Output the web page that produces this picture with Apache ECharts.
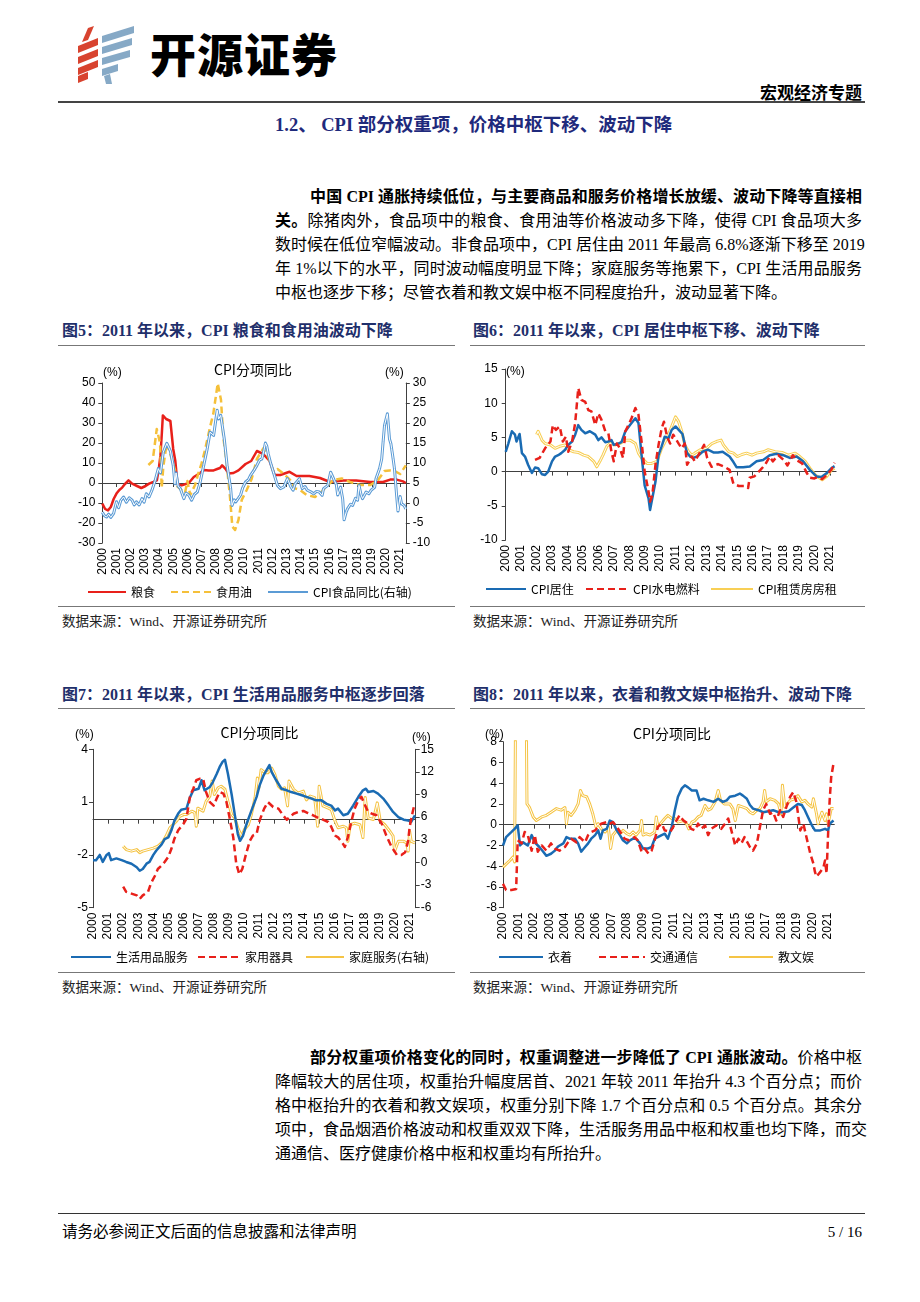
<!DOCTYPE html>
<html><head><meta charset="utf-8">
<script src="https://cdn.jsdelivr.net/npm/echarts@6/dist/echarts.min.js"></script>
<style>
body{margin:0;background:#fff;}
#page{position:relative;width:920px;height:1302px;overflow:hidden;font-family:"Liberation Serif","Noto Sans CJK SC",serif;color:#000;}
.a{position:absolute;white-space:nowrap;}
.pl{position:absolute;font-size:16px;line-height:20px;height:20px;white-space:nowrap;text-align:justify;text-align-last:justify;}
.cap{position:absolute;white-space:nowrap;font-size:16px;font-weight:bold;color:#1f2f6b;line-height:18px;}
.src{position:absolute;white-space:nowrap;font-size:13.5px;color:#222;line-height:16px;}
.hr{position:absolute;height:1px;background:#777;}
.chart{position:absolute;}
b{font-weight:bold;}
</style></head>
<body><div id="page">
<svg class="a" style="left:74px;top:26px" width="66" height="58" viewBox="0 0 66 58">
 <g fill="#d8432f">
  <polygon points="14,2 20,0 14,14 8,16"/>
  <polygon points="4,20 24,12 24,19 4,27"/>
  <polygon points="4,31 24,23 24,30 4,38"/>
  <polygon points="4,42 24,34 24,41 4,49"/>
  <polygon points="4,50 14,46 14,53 4,57"/>
 </g>
 <g fill="#86a9c6">
  <polygon points="28,10 60,0 60,7 28,17"/>
  <polygon points="28,21 58,12 58,19 28,28"/>
  <polygon points="28,32 56,24 56,31 28,39"/>
  <polygon points="28,43 44,38 44,45 28,50"/>
  <polygon points="30,50 36,48 38,58 32,58"/>
 </g>
</svg>
<div class="a" style="left:150px;top:22px;font-family:'Noto Sans CJK SC';font-size:46px;font-weight:900;line-height:60px;letter-spacing:1px;">开源证券</div>
<div class="a" style="right:58px;top:82px;font-size:17px;font-weight:bold;line-height:20px;font-family:'Noto Sans CJK SC';">宏观经济专题</div>
<div class="a" style="left:58px;top:101px;width:807px;height:2px;background:#444;"></div>
<div class="a" style="left:275px;top:114px;font-size:18.5px;font-weight:bold;color:#1f2a7c;line-height:22px;">1.2、 CPI 部分权重项，价格中枢下移、波动下降</div>

<div class="pl" style="left:310px;top:187px;width:552px;"><b>中国 CPI 通胀持续低位，与主要商品和服务价格增长放缓、波动下降等直接相</b></div>
<div class="pl" style="left:275px;top:211px;width:587px;"><b>关。</b>除猪肉外，食品项中的粮食、食用油等价格波动多下降，使得 CPI 食品项大多</div>
<div class="pl" style="left:275px;top:235px;width:587px;">数时候在低位窄幅波动。非食品项中，CPI 居住由 2011 年最高 6.8%逐渐下移至 2019</div>
<div class="pl" style="left:275px;top:259px;width:587px;">年 1%以下的水平，同时波动幅度明显下降；家庭服务等拖累下，CPI 生活用品服务</div>
<div class="pl" style="left:275px;top:283px;text-align:left;text-align-last:left;">中枢也逐步下移；尽管衣着和教文娱中枢不同程度抬升，波动显著下降。</div>

<div class="cap" style="left:62px;top:322px;">图5：2011 年以来，CPI 粮食和食用油波动下降</div>
<div class="cap" style="left:473px;top:322px;">图6：2011 年以来，CPI 居住中枢下移、波动下降</div>
<div class="hr" style="left:58px;top:345px;width:397px;"></div>
<div class="hr" style="left:470px;top:345px;width:395px;"></div>
<div id="c5" class="chart" style="left:58px;top:350px;width:400px;height:255px;"></div>
<div id="c6" class="chart" style="left:468px;top:350px;width:400px;height:255px;"></div>
<div class="hr" style="left:58px;top:606px;width:397px;"></div>
<div class="hr" style="left:470px;top:606px;width:395px;"></div>
<div class="src" style="left:62px;top:614px;">数据来源：Wind、开源证券研究所</div>
<div class="src" style="left:473px;top:614px;">数据来源：Wind、开源证券研究所</div>

<div class="cap" style="left:62px;top:686px;">图7：2011 年以来，CPI 生活用品服务中枢逐步回落</div>
<div class="cap" style="left:473px;top:686px;">图8：2011 年以来，衣着和教文娱中枢抬升、波动下降</div>
<div class="hr" style="left:58px;top:708px;width:397px;"></div>
<div class="hr" style="left:470px;top:708px;width:395px;"></div>
<div id="c7" class="chart" style="left:58px;top:712px;width:400px;height:260px;"></div>
<div id="c8" class="chart" style="left:468px;top:712px;width:400px;height:260px;"></div>
<div class="hr" style="left:58px;top:972px;width:397px;"></div>
<div class="hr" style="left:470px;top:972px;width:395px;"></div>
<div class="src" style="left:62px;top:980px;">数据来源：Wind、开源证券研究所</div>
<div class="src" style="left:473px;top:980px;">数据来源：Wind、开源证券研究所</div>

<div class="pl" style="left:310px;top:1048px;width:552px;"><b>部分权重项价格变化的同时，权重调整进一步降低了 CPI 通胀波动。</b>价格中枢</div>
<div class="pl" style="left:275px;top:1072px;width:587px;">降幅较大的居住项，权重抬升幅度居首、2021 年较 2011 年抬升 4.3 个百分点；而价</div>
<div class="pl" style="left:275px;top:1096px;width:587px;">格中枢抬升的衣着和教文娱项，权重分别下降 1.7 个百分点和 0.5 个百分点。其余分</div>
<div class="pl" style="left:275px;top:1120px;width:587px;">项中，食品烟酒价格波动和权重双双下降，生活服务用品中枢和权重也均下降，而交</div>
<div class="pl" style="left:275px;top:1144px;text-align:left;text-align-last:left;">通通信、医疗健康价格中枢和权重均有所抬升。</div>

<div class="a" style="left:58px;top:1213px;width:807px;height:1px;background:#333;"></div>
<div class="a" style="left:62px;top:1223px;font-size:15.5px;line-height:18px;">请务必参阅正文后面的信息披露和法律声明</div>
<div class="a" style="right:58px;top:1223px;font-size:15px;line-height:18px;">5 / 16</div>
</div>
<script>
// ---------- tick labels ----------
const yearTicks = [2000,2001,2002,2003,2004,2005,2006,2007,2008,2009,2010,2011,2012,2013,2014,2015,2016,2017,2018,2019,2020,2021];

// ---------- Fig 5 ----------
const grain = [[2000.0,-10.3],[2000.2,-13],[2000.4,-13.7],[2000.6,-12],[2000.8,-8],[2001.0,-5.3],[2001.2,-3.5],[2001.4,-2.3],[2001.6,-0.5],[2001.85,1.3],[2002.1,-0.3],[2002.45,-1.5],[2002.75,-2.5],[2003.05,-1.5],[2003.3,-0.3],[2003.6,0.5],[2003.85,1.3],[2004.0,8],[2004.1,13.8],[2004.2,25],[2004.27,33.8],[2004.5,32],[2004.8,31],[2005.0,17],[2005.15,11],[2005.3,-0.5],[2005.6,-1.2],[2006.1,0],[2006.45,3],[2006.9,5],[2007.15,6.5],[2007.5,6.3],[2007.85,6.3],[2008.1,7],[2008.3,7.5],[2008.45,8.8],[2008.7,7],[2008.9,4.7],[2009.25,5],[2009.6,6.3],[2010.1,9.5],[2010.5,11],[2010.9,16],[2011.35,14.5],[2011.8,11],[2012.15,4],[2012.55,4],[2013.2,5.6],[2013.7,3.5],[2014.6,3.5],[2015.35,2.5],[2016.05,0.5],[2017.0,1.3],[2017.9,1.2],[2018.9,0.5],[2019.8,0.5],[2020.3,1.7],[2020.75,1.7],[2021.2,0.8],[2021.4,0]];
const oil = [[2003.25,9],[2003.55,11],[2003.84,27],[2004.07,20],[2004.19,-2.5],[2004.3,8],[2004.54,20],[2004.77,15],[2005.13,6.5],[2005.3,-1.8],[2005.83,-5],[2006.0,1],[2006.2,-6],[2006.54,-1],[2006.77,4.8],[2007.0,9.8],[2007.24,16.5],[2007.6,28],[2007.83,34.8],[2008.14,49.8],[2008.37,41.5],[2008.53,23],[2008.77,9.8],[2009.0,-6.8],[2009.17,-21.8],[2009.36,-23.5],[2009.6,-18.5],[2009.83,-8.5],[2010.18,-3.5],[2010.53,2],[2010.9,12],[2011.35,17.3],[2011.7,13],[2012.06,5.7],[2012.35,7],[2012.76,4.8],[2013.24,1.5],[2013.6,-2.7],[2013.94,-3.5],[2014.4,-6],[2015.0,-7],[2015.47,-4.3],[2015.9,-1],[2016.3,1.5],[2016.88,2.3],[2017.47,0.5],[2018.17,-1],[2018.9,-1],[2019.44,1.5],[2019.9,6],[2020.25,6.3],[2020.6,6],[2021.0,4.5],[2021.4,8.8]];
const foodCpi = [[2000.0,-2.3],[2000.15,-3.2],[2000.3,-3.5],[2000.45,-2.8],[2000.6,-3.6],[2000.8,-2.6],[2001.0,0.3],[2001.15,-1.2],[2001.3,0.6],[2001.5,1.5],[2001.7,0.2],[2001.9,1.3],[2002.1,0.7],[2002.25,-0.5],[2002.4,0.3],[2002.6,-0.5],[2002.8,1.1],[2002.95,0.2],[2003.1,2.3],[2003.3,1.5],[2003.5,3.2],[2003.7,5.3],[2003.95,8.6],[2004.1,7.5],[2004.3,12.7],[2004.55,14.9],[2004.8,13],[2005.0,9.4],[2005.12,4.8],[2005.2,7.5],[2005.35,4.2],[2005.5,3.6],[2005.75,1.1],[2005.9,2.5],[2006.1,2],[2006.3,0.7],[2006.5,2.2],[2006.7,2.75],[2006.9,5.2],[2007.15,9.4],[2007.4,13.6],[2007.6,17.7],[2007.85,16.9],[2008.1,23.2],[2008.2,21],[2008.35,21.9],[2008.6,16],[2008.8,9.4],[2009.05,3.6],[2009.15,-0.6],[2009.3,0.8],[2009.4,0.25],[2009.6,1.2],[2009.75,2],[2009.9,3.8],[2010.1,5.25],[2010.3,5.8],[2010.45,6.9],[2010.7,8.2],[2010.9,9.4],[2011.1,10.8],[2011.25,11],[2011.4,13.2],[2011.5,15],[2011.6,14.2],[2011.7,12.3],[2011.85,10.2],[2012.1,7.3],[2012.35,4.4],[2012.55,3.6],[2012.8,4],[2013.05,6.1],[2013.3,4],[2013.45,3.2],[2013.6,4.8],[2013.9,6.1],[2014.1,3.6],[2014.3,4.1],[2014.45,3.2],[2014.7,2.8],[2014.9,2.3],[2015.1,2.9],[2015.3,2.75],[2015.5,1.9],[2015.6,3.6],[2015.9,4.4],[2016.1,7.7],[2016.35,5.7],[2016.5,4.6],[2016.6,2],[2016.8,4],[2016.95,1],[2017.05,-4.2],[2017.2,-2.2],[2017.3,-1.4],[2017.5,-0.3],[2017.65,-0.6],[2017.85,1.2],[2018.0,0.7],[2018.1,4.4],[2018.25,2],[2018.35,1.1],[2018.6,2.75],[2018.8,2.3],[2018.95,3.2],[2019.05,3.6],[2019.2,3.9],[2019.3,6.1],[2019.55,8.6],[2019.7,11],[2019.8,15.3],[2019.9,19.4],[2020.0,19],[2020.1,22.3],[2020.25,16],[2020.35,14.8],[2020.4,13.6],[2020.5,11.2],[2020.6,8.6],[2020.75,2],[2020.85,-2],[2021.0,1.6],[2021.1,-0.2],[2021.2,-0.3],[2021.3,-0.7],[2021.4,-1.5]];

// ---------- Fig 6 ----------
const housing = [[2000.0,2.9],[2000.17,4.1],[2000.4,5.9],[2000.6,5.4],[2000.7,4.4],[2000.9,5.5],[2001.05,2.7],[2001.25,2.2],[2001.45,1.0],[2001.7,-0.2],[2001.9,0.6],[2002.1,0.5],[2002.35,-0.4],[2002.55,-0.5],[2002.75,0],[2003.0,1.5],[2003.2,2.2],[2003.4,2.4],[2003.6,2.7],[2003.85,3.2],[2004.05,3.9],[2004.3,4.4],[2004.5,5.4],[2004.7,6.8],[2004.9,6.1],[2005.15,5.6],[2005.45,5.9],[2005.8,5.4],[2006.0,4.6],[2006.2,5.0],[2006.45,4.3],[2006.65,4.4],[2006.85,4.6],[2007.0,3.9],[2007.3,4.1],[2007.5,4.3],[2007.75,5.9],[2008.05,6.8],[2008.4,7.8],[2008.6,7.1],[2008.8,2.4],[2009.0,-2],[2009.25,-3.9],[2009.35,-5.6],[2009.45,-5.4],[2009.7,-1.5],[2009.9,2.4],[2010.1,3.7],[2010.3,5.1],[2010.55,4.9],[2010.75,6.1],[2011.0,6.6],[2011.25,6.0],[2011.45,5.5],[2011.6,4.0],[2011.75,2.7],[2011.95,2.2],[2012.15,2.0],[2012.4,2.2],[2012.75,2.9],[2013.1,3.2],[2013.45,2.8],[2013.75,2.8],[2014.05,2.9],[2014.5,2.2],[2014.75,1.4],[2014.95,0.64],[2015.38,0.64],[2015.81,0.75],[2016.25,1.5],[2016.67,1.7],[2017.1,2.4],[2017.54,2.6],[2017.97,2.4],[2018.4,2.0],[2018.84,2.2],[2019.26,1.5],[2019.7,0.25],[2020.13,-0.7],[2020.45,-0.8],[2020.78,-0.25],[2021.1,0.5],[2021.3,0.8]];
const utilities = [[2001.9,1.7],[2002.2,2.0],[2002.55,3.4],[2002.9,4.4],[2003.05,6.8],[2003.25,6.1],[2003.5,6.6],[2003.7,4.4],[2003.9,5.1],[2004.05,2.9],[2004.3,4.4],[2004.5,7.1],[2004.7,12.2],[2004.9,10.5],[2005.15,10.2],[2005.35,9.0],[2005.55,8.8],[2005.8,6.8],[2006.0,8.5],[2006.2,7.6],[2006.45,5.9],[2006.65,5.6],[2006.85,2.9],[2007.0,1.5],[2007.2,4.1],[2007.4,3.4],[2007.6,2.0],[2007.75,5.9],[2007.95,6.8],[2008.15,7.8],[2008.4,9.3],[2008.6,8.3],[2008.8,4.4],[2009.0,0],[2009.25,-2.9],[2009.35,-4.4],[2009.5,-3.4],[2009.7,1.0],[2009.9,3.9],[2010.1,6.3],[2010.25,7.3],[2010.45,5.1],[2010.65,4.1],[2010.85,5.4],[2011.2,4.1],[2011.4,3.4],[2011.6,4.1],[2011.75,1.0],[2012.05,2.2],[2012.25,1.5],[2012.6,2.9],[2012.85,3.9],[2013.05,2.0],[2013.33,0.7],[2013.75,1.1],[2014.18,0.7],[2014.5,0.25],[2014.75,-1.8],[2015.1,-2.1],[2015.5,-2.1],[2015.7,-2.4],[2015.8,-0.9],[2016.1,-0.7],[2016.5,0.25],[2016.8,1.0],[2017.1,2.2],[2017.3,1.5],[2017.65,2.4],[2018.0,1.7],[2018.25,0.9],[2018.6,2.4],[2018.9,1.6],[2019.2,1.2],[2019.5,-0.2],[2019.7,-0.9],[2020.0,-1.0],[2020.2,-0.8],[2020.5,-1.1],[2020.8,-0.5],[2021.1,0.3],[2021.3,1.3]];
const rent = [[2002.0,5.4],[2002.1,5.9],[2002.35,4.6],[2002.55,4.1],[2002.9,3.9],[2003.2,3.4],[2003.5,3.7],[2003.85,3.9],[2004.05,3.2],[2004.4,2.9],[2004.7,2.8],[2005.05,2.4],[2005.35,2.2],[2005.7,1.5],[2005.9,0.7],[2006.1,1.5],[2006.3,2.4],[2006.55,3.7],[2006.75,4.1],[2007.1,3.9],[2007.4,4.1],[2007.75,4.6],[2008.05,4.6],[2008.4,4.1],[2008.6,2.7],[2008.8,2.0],[2009.15,1.2],[2009.45,1.2],[2009.8,1.5],[2010.1,3.4],[2010.45,4.9],[2010.75,6.6],[2011.0,8.0],[2011.2,7.3],[2011.4,5.9],[2011.6,3.9],[2011.85,2.9],[2012.05,2.4],[2012.25,2.7],[2012.6,3.2],[2013.0,3.4],[2013.35,4.1],[2013.65,4.4],[2013.95,4.6],[2014.1,3.9],[2014.45,2.9],[2014.75,2.7],[2015.0,2.2],[2015.3,2.5],[2015.6,2.7],[2015.95,2.4],[2016.25,2.7],[2016.7,2.9],[2017.0,3.2],[2017.45,2.9],[2017.9,2.8],[2018.3,2.4],[2018.75,2.7],[2019.05,2.2],[2019.4,1.5],[2019.7,0.5],[2020.05,-0.5],[2020.5,-1.2],[2020.8,-0.7],[2021.1,0.25],[2021.3,0.5]];

// ---------- Fig 7 ----------
const dailyGoods = [[2000.0,-2.3],[2000.2,-2.3],[2000.45,-2.0],[2000.65,-2.4],[2000.9,-2.0],[2001.05,-1.9],[2001.2,-2.3],[2001.55,-2.2],[2001.9,-2.3],[2002.2,-2.4],[2002.55,-2.5],[2002.9,-2.7],[2003.1,-2.9],[2003.3,-2.8],[2003.55,-2.5],[2003.75,-2.4],[2004.0,-2.0],[2004.2,-1.75],[2004.55,-1.4],[2004.75,-1.1],[2005.0,-1.0],[2005.2,-0.6],[2005.4,-0.05],[2005.65,0.35],[2005.85,0.57],[2006.2,0.63],[2006.4,1.2],[2006.65,1.67],[2007.0,1.76],[2007.2,2.24],[2007.4,1.67],[2007.75,1.86],[2007.95,2.14],[2008.2,2.6],[2008.4,3.0],[2008.6,3.3],[2008.75,3.4],[2008.95,2.6],[2009.2,1.4],[2009.4,0.3],[2009.6,-0.8],[2009.75,-1.2],[2009.95,-0.9],[2010.2,-0.2],[2010.5,0.5],[2010.85,1.3],[2011.05,1.95],[2011.3,2.5],[2011.5,2.8],[2011.7,3.1],[2011.85,2.7],[2012.15,2.24],[2012.5,1.76],[2012.85,1.67],[2013.15,1.57],[2013.5,1.48],[2013.8,1.4],[2014.15,1.3],[2014.5,1.2],[2014.8,1.1],[2015.15,1.1],[2015.5,0.9],[2015.8,0.8],[2016.05,0.53],[2016.25,0.63],[2016.6,0.25],[2016.9,0.34],[2017.25,0.8],[2017.6,1.3],[2017.9,1.67],[2018.1,1.76],[2018.25,1.57],[2018.6,1.63],[2018.9,1.48],[2019.25,1.2],[2019.6,0.8],[2019.9,0.44],[2020.25,0.15],[2020.6,0],[2020.9,-0.04],[2021.1,-0.13],[2021.35,0.25]];
const appliances = [[2002.0,-3.8],[2002.2,-4.1],[2002.55,-4.2],[2002.9,-4.3],[2003.1,-4.5],[2003.3,-4.3],[2003.65,-4.1],[2003.85,-3.6],[2004.1,-3.2],[2004.3,-2.8],[2004.55,-2.6],[2004.75,-2.4],[2005.0,-2.1],[2005.2,-1.65],[2005.4,-1.08],[2005.65,-0.6],[2006.0,-0.23],[2006.2,0.06],[2006.3,0.63],[2006.45,1.4],[2006.65,1.76],[2006.85,2.24],[2007.1,2.33],[2007.3,2.33],[2007.5,1.57],[2007.75,1.0],[2008.0,0.8],[2008.2,1.2],[2008.4,1.57],[2008.65,1.48],[2008.85,1.0],[2009.05,0.15],[2009.3,-1.0],[2009.5,-2.5],[2009.7,-3.1],[2009.9,-2.8],[2010.15,-1.94],[2010.4,-1.2],[2010.6,-0.9],[2010.85,-0.8],[2011.05,-0.04],[2011.35,0.63],[2011.6,1.0],[2011.95,0.72],[2012.3,0.63],[2012.6,0.25],[2012.85,0],[2013.05,0.15],[2013.3,0.34],[2013.6,0.44],[2013.95,0.5],[2014.25,0.38],[2014.6,0.25],[2014.95,0.1],[2015.25,0],[2015.6,-0.13],[2015.8,-0.4],[2016.05,-0.9],[2016.25,-1.0],[2016.6,-1.4],[2016.7,-1.55],[2016.9,-1.0],[2017.15,-0.04],[2017.35,0.63],[2017.6,1.1],[2017.8,1.3],[2018.05,0.8],[2018.25,0.44],[2018.5,0.34],[2018.8,0.25],[2019.15,-0.23],[2019.45,-0.9],[2019.8,-1.55],[2020.15,-2.0],[2020.45,-2.0],[2020.7,-1.85],[2020.9,-1.2],[2021.0,-0.4],[2021.2,0.44],[2021.3,0.8]];
const homeService = [[2002.0,2.15],[2002.2,1.7],[2002.55,1.5],[2002.9,1.7],[2003.1,1.3],[2003.3,1.5],[2003.65,1.7],[2004.0,1.9],[2004.3,2.15],[2004.65,2.8],[2004.85,3.5],[2005.1,4.6],[2005.3,5.0],[2005.55,5.5],[2005.75,6.1],[2006.0,6.35],[2006.2,6.35],[2006.55,6.8],[2006.75,6.6],[2006.85,4.8],[2006.95,7.2],[2007.3,6.8],[2007.5,8.1],[2007.75,8.8],[2007.9,10.8],[2008.05,9.0],[2008.3,9.9],[2008.5,10.1],[2008.75,9.7],[2008.95,8.1],[2009.2,6.35],[2009.4,5.9],[2009.6,4.6],[2009.85,3.5],[2009.95,3.3],[2010.05,4.4],[2010.3,5.0],[2010.5,6.35],[2010.75,8.6],[2010.9,11.2],[2011.0,9.9],[2011.15,12.3],[2011.4,11.9],[2011.6,11.9],[2011.85,12.5],[2012.05,11.7],[2012.3,10.1],[2012.5,9.7],[2012.7,9.9],[2012.9,7.5],[2013.0,10.8],[2013.3,9.7],[2013.6,9.2],[2013.95,9.45],[2014.15,8.3],[2014.4,8.8],[2014.7,8.6],[2014.9,4.8],[2015.0,10.1],[2015.25,7.5],[2015.6,7.2],[2015.8,7.0],[2016.05,5.5],[2016.25,4.6],[2016.6,4.8],[2016.8,4.6],[2016.9,2.8],[2017.05,5.0],[2017.35,5.2],[2017.7,5.0],[2017.9,3.3],[2018.05,8.6],[2018.25,5.9],[2018.6,5.7],[2018.85,7.9],[2019.05,5.5],[2019.35,5.0],[2019.7,4.1],[2019.9,3.5],[2020.0,1.5],[2020.25,2.8],[2020.6,2.8],[2020.8,2.6],[2020.9,1.5],[2021.0,4.1],[2021.1,2.8],[2021.35,2.6]];

// ---------- Fig 8 ----------
const clothing = [[2000.0,-2.0],[2000.2,-1.2],[2000.55,-0.7],[2000.75,-0.4],[2000.95,-0.06],[2001.1,-2.0],[2001.3,-1.7],[2001.6,-2.0],[2001.85,-1.0],[2002.05,-1.7],[2002.35,-2.15],[2002.6,-2.6],[2002.8,-3.0],[2003.1,-2.8],[2003.35,-2.5],[2003.55,-2.1],[2003.9,-1.8],[2004.1,-1.2],[2004.3,-1.35],[2004.65,-1.35],[2004.85,-1.8],[2005.05,-2.6],[2005.3,-2.15],[2005.5,-1.8],[2005.7,-1.35],[2005.95,-1.0],[2006.15,-0.55],[2006.3,-1.35],[2006.45,-0.55],[2006.7,-0.4],[2006.9,0.4],[2007.1,0.25],[2007.35,-0.55],[2007.55,-1.0],[2007.75,-1.5],[2008.0,-1.8],[2008.2,-1.5],[2008.4,-1.35],[2008.6,-1.35],[2008.85,-1.8],[2009.05,-2.3],[2009.35,-2.3],[2009.6,-2.15],[2009.8,-1.35],[2010.0,-1.2],[2010.25,-1.0],[2010.45,-0.87],[2010.65,-1.35],[2010.9,-0.2],[2011.1,1.4],[2011.3,2.7],[2011.55,3.5],[2011.75,3.8],[2011.95,3.6],[2012.2,3.3],[2012.5,3.3],[2012.7,2.35],[2012.95,2.5],[2013.25,2.35],[2013.6,2.2],[2013.9,2.5],[2014.2,2.2],[2014.45,2.35],[2014.65,2.7],[2015.0,2.8],[2015.3,3.0],[2015.5,2.8],[2015.75,2.5],[2015.95,1.9],[2016.15,1.55],[2016.5,1.4],[2016.8,1.2],[2017.15,1.3],[2017.45,1.4],[2017.8,1.2],[2018.1,1.2],[2018.45,1.3],[2018.75,1.65],[2019.05,2.0],[2019.3,1.9],[2019.5,1.4],[2019.7,0.75],[2019.95,-0.06],[2020.15,-0.55],[2020.5,-0.55],[2020.8,-0.4],[2021.0,-0.55],[2021.1,0.1],[2021.35,0.4]];
const transport = [[2000.0,-5.7],[2000.2,-6.3],[2000.55,-6.3],[2000.85,-6.2],[2000.95,-1.5],[2001.2,-1.8],[2001.4,-0.7],[2001.6,-1.0],[2001.85,-2.5],[2002.05,-1.0],[2002.25,-2.6],[2002.5,-2.0],[2002.8,-2.5],[2003.1,-1.8],[2003.35,-2.3],[2003.65,-2.5],[2004.0,-2.15],[2004.2,-1.7],[2004.4,-1.35],[2004.75,-1.7],[2004.95,-1.2],[2005.3,-1.7],[2005.5,-1.0],[2005.7,-0.7],[2005.95,-0.55],[2006.15,-0.2],[2006.35,0.1],[2006.7,0.25],[2006.9,0.1],[2007.1,0.25],[2007.35,-0.2],[2007.65,-0.87],[2007.85,-1.35],[2008.1,-1.5],[2008.3,-1.35],[2008.5,-1.2],[2008.7,-1.5],[2008.95,-2.6],[2009.15,-2.3],[2009.4,-2.8],[2009.6,-2.5],[2009.8,-1.5],[2010.0,-0.2],[2010.25,0.1],[2010.45,-0.55],[2010.8,-0.7],[2011.0,-0.2],[2011.2,0.4],[2011.4,0.9],[2011.65,0.4],[2011.95,0.1],[2012.15,-0.4],[2012.4,-0.55],[2012.6,0.1],[2012.8,-0.4],[2013.05,-0.06],[2013.25,-1.0],[2013.45,-0.4],[2013.8,-0.06],[2014.1,-0.4],[2014.35,0.1],[2014.55,0.6],[2014.75,-0.55],[2015.0,-2.0],[2015.2,-1.35],[2015.4,-1.8],[2015.6,-1.2],[2015.95,-2.15],[2016.15,-2.5],[2016.4,-1.8],[2016.6,-0.2],[2016.8,1.4],[2017.0,2.0],[2017.25,1.05],[2017.45,1.2],[2017.65,0.4],[2017.9,1.4],[2018.1,0.75],[2018.3,1.7],[2018.55,2.7],[2018.75,3.15],[2018.95,2.2],[2019.2,-0.55],[2019.4,0.1],[2019.6,-1.2],[2019.85,-2.8],[2020.05,-3.75],[2020.15,-4.55],[2020.25,-5.0],[2020.5,-4.55],[2020.7,-4.1],[2020.8,-3.45],[2020.9,-4.7],[2021.0,-0.87],[2021.1,2.35],[2021.2,4.6],[2021.35,5.9]];
const eduEnt = [[2000.0,-4.1],[2000.2,-3.8],[2000.45,-3.45],[2000.65,-3.1],[2000.75,-3.6],[2000.85,20],[2001.45,20],[2001.55,2.0],[2001.7,1.7],[2001.95,0.75],[2002.15,0.4],[2002.5,0.75],[2002.8,0.9],[2003.1,1.2],[2003.45,1.55],[2003.75,1.4],[2004.0,1.65],[2004.1,0.1],[2004.2,1.2],[2004.4,0.9],[2004.65,1.4],[2004.85,2.0],[2005.0,3.3],[2005.15,2.8],[2005.4,2.7],[2005.6,2.0],[2005.8,1.05],[2006.0,-0.2],[2006.15,0.1],[2006.35,-0.4],[2006.6,-0.7],[2006.8,-0.2],[2006.95,-2.3],[2007.1,-1.0],[2007.35,-0.55],[2007.55,-0.87],[2007.75,-0.55],[2008.0,-0.87],[2008.2,-1.0],[2008.4,-0.7],[2008.6,-1.0],[2008.85,-0.55],[2008.95,0.4],[2009.05,-1.0],[2009.25,-0.87],[2009.5,-1.0],[2009.8,-0.7],[2009.9,0.75],[2010.0,-0.2],[2010.25,0.25],[2010.45,0.6],[2010.65,0.9],[2010.9,0.6],[2011.1,0.6],[2011.3,0.25],[2011.65,0.4],[2011.85,0.1],[2012.0,-0.4],[2012.2,0.25],[2012.4,0.4],[2012.6,0.75],[2012.8,0.9],[2013.05,1.85],[2013.25,1.4],[2013.45,1.55],[2013.7,2.2],[2013.9,3.3],[2014.05,2.35],[2014.3,2.0],[2014.65,2.0],[2014.85,1.55],[2015.0,0.4],[2015.2,1.85],[2015.5,1.7],[2015.75,1.55],[2015.95,1.2],[2016.15,1.05],[2016.4,1.4],[2016.6,1.55],[2016.8,2.2],[2016.9,3.3],[2017.0,2.2],[2017.25,2.5],[2017.55,2.35],[2017.8,2.0],[2017.95,1.05],[2018.05,3.8],[2018.2,1.7],[2018.55,2.35],[2018.85,2.5],[2019.05,2.8],[2019.3,2.2],[2019.5,2.35],[2019.7,2.0],[2019.95,1.7],[2020.05,2.5],[2020.25,1.05],[2020.35,0.1],[2020.6,1.2],[2020.8,0.4],[2020.9,1.05],[2021.0,0.1],[2021.2,1.55],[2021.35,1.55]];

// ---------- helpers ----------
const NUMF = 'Liberation Sans';
const CJKF = 'Noto Sans CJK SC';
const AXC = '#404040';
const RED = '#e8201a', YEL = '#f5c03a', BLUE = '#1a6bb3', LBLUE = '#5b9bd5', YEL2 = '#f5c445';
const XMAX = 2021.4;

function xAxes(){
  return [
    {type:'value',min:2000,max:XMAX,interval:1,position:'bottom',
     axisLine:{show:false,onZero:false},axisTick:{show:false},splitLine:{show:false},
     axisLabel:{rotate:90,margin:5,fontSize:12,color:'#000',fontFamily:NUMF,customValues:yearTicks,
       formatter:v=>Number.isInteger(v)?String(v):''}},
    {type:'value',min:2000,max:XMAX,interval:1,position:'bottom',
     axisLine:{show:true,onZero:true,onZeroAxisIndex:0,lineStyle:{color:AXC,width:1}},
     axisTick:{show:true,length:4,lineStyle:{color:AXC},customValues:yearTicks},
     axisLabel:{show:false},splitLine:{show:false}}
  ];
}
function yAx(min,max,interval,pos,margin){
  return {type:'value',min,max,interval,position:pos,
    axisLine:{show:true,onZero:false,lineStyle:{color:AXC,width:1}},
    axisTick:{show:true,length:4,lineStyle:{color:AXC}},splitLine:{show:false},
    axisLabel:{fontSize:12,color:'#000',fontFamily:NUMF,margin}};
}
function ln(name,data,color,width,opt){
  opt=opt||{};
  return {name,type:'line',data,symbol:'none',showSymbol:false,xAxisIndex:0,yAxisIndex:opt.y||0,
    lineStyle:{color,width,type:opt.dash||'solid',cap:'butt',join:'round'},itemStyle:{color},
    z:opt.z||2,emphasis:{disabled:true},clip:true};
}
function core(name,data,opt){
  opt=opt||{};
  return {name:name+'_core',type:'line',data,symbol:'none',showSymbol:false,xAxisIndex:0,yAxisIndex:opt.y||0,
    lineStyle:{color:'#ffffff',width:opt.w||1},silent:true,z:(opt.z||2)+1,emphasis:{disabled:true},clip:true};
}
function leg(name,left,top,w){
  return {data:[name],left,top,itemWidth:w||40,itemHeight:10,padding:0,selectedMode:false,
    itemStyle:{opacity:0,borderWidth:0,color:'rgba(0,0,0,0)'},
    textStyle:{fontSize:12,color:'#000',fontFamily:CJKF}};
}
function txt(x,y,text,size,align,font){
  return {type:'text',x,y,silent:true,
    style:{text,fill:'#000',font:size+'px "'+(font||CJKF)+'"',align:align||'left',verticalAlign:'middle'}};
}
function make(id,opt){
  const c = echarts.init(document.getElementById(id),null,{renderer:'canvas'});
  opt.animation=false;
  opt.tooltip={show:false};
  c.setOption(opt);
}

// Fig 5
make('c5',{
  grid:{left:44.3,right:52.2,top:33,bottom:62,outerBoundsMode:'none'},
  xAxis:xAxes(),
  yAxis:[yAx(-30,50,10,'left',7),yAx(-10,30,5,'right',7)],
  legend:[leg('粮食',29,236,38),leg('食用油',112,236,40),leg('CPI食品同比(右轴)',209,236,40)],
  graphic:[txt(195,20,'CPI分项同比',14,'center'),txt(45,23,'(%)',12,'left',NUMF),txt(327,23,'(%)',12,'left',NUMF)],
  series:[
    ln('粮食',grain,RED,2.5,{z:2}),
    ln('食用油',oil,YEL,2.5,{dash:[7,4],z:3}),
    ln('CPI食品同比(右轴)',foodCpi,LBLUE,3,{y:1,z:4}),
    core('CPI食品同比(右轴)',foodCpi,{y:1,z:4})
  ]
});
// Fig 6
make('c6',{
  grid:{left:37.7,right:31.9,top:19,bottom:65,outerBoundsMode:'none'},
  xAxis:xAxes(),
  yAxis:[yAx(-10,15,5,'left',8)],
  legend:[leg('CPI居住',17,233,40),leg('CPI水电燃料',117,233,42),leg('CPI租赁房房租',242,233,42)],
  graphic:[txt(38,22,'(%)',12,'left',NUMF)],
  series:[
    ln('CPI租赁房房租',rent,'#f8cf55',3,{z:2}),
    core('CPI租赁房房租',rent,{z:2}),
    ln('CPI居住',housing,BLUE,2.5,{z:4}),
    ln('CPI水电燃料',utilities,RED,2.5,{dash:[7,4],z:5})
  ]
});
// Fig 7
make('c7',{
  grid:{left:35,right:42.3,top:37.3,bottom:64.3,outerBoundsMode:'none'},
  xAxis:xAxes(),
  yAxis:[yAx(-5,4,3,'left',5),yAx(-6,15,3,'right',5)],
  legend:[leg('生活用品服务',12,239,40),leg('家用器具',139,239,42),leg('家庭服务(右轴)',247,239,38)],
  graphic:[txt(201.5,21,'CPI分项同比',14,'center'),txt(17,23,'(%)',12,'left',NUMF),txt(354,26,'(%)',12,'left',NUMF)],
  series:[
    ln('家庭服务(右轴)',homeService,YEL2,3,{y:1,z:2}),
    core('家庭服务(右轴)',homeService,{y:1,z:2}),
    ln('生活用品服务',dailyGoods,BLUE,2.5,{z:4}),
    ln('家用器具',appliances,RED,2.5,{dash:[7,4],z:5})
  ]
});
// Fig 8
make('c8',{
  grid:{left:35,right:33.7,top:29.7,bottom:64.3,outerBoundsMode:'none'},
  xAxis:xAxes(),
  yAxis:[yAx(-8,8,2,'left',6)],
  legend:[leg('衣着',30,239,44),leg('交通通信',130,239,46),leg('教文娱',260,239,44)],
  graphic:[txt(204,22,'CPI分项同比',14,'center'),txt(17,23,'(%)',12,'left',NUMF)],
  series:[
    ln('教文娱',eduEnt,YEL2,3,{z:2}),
    core('教文娱',eduEnt,{z:2}),
    ln('衣着',clothing,BLUE,2.5,{z:4}),
    ln('交通通信',transport,RED,2.5,{dash:[7,4],z:5})
  ]
});
</script>
</body></html>
